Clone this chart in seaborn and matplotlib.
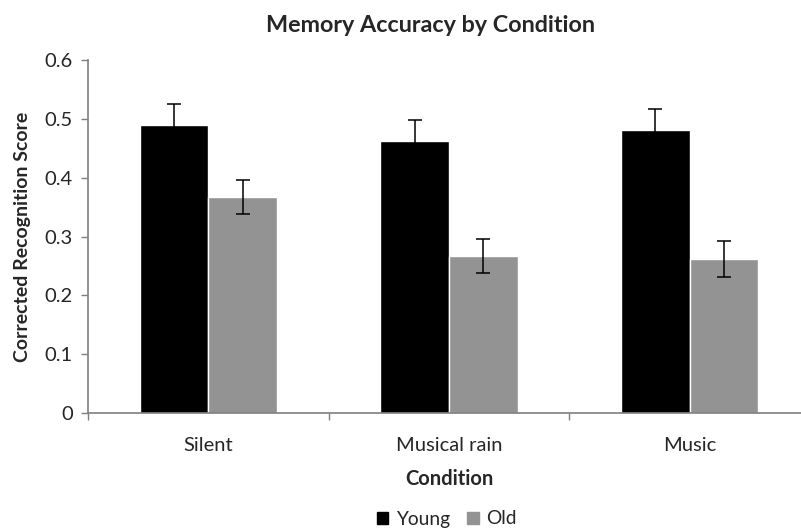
import pandas as pd
import matplotlib
matplotlib.use('Agg')
import matplotlib.pyplot as plt
import seaborn as sns
from matplotlib.ticker import FixedLocator

sns.set_style('white')
plt.rcParams['font.family'] = ['Lato', 'DejaVu Sans']

conditions = ['Silent', 'Musical rain', 'Music']
groups = ['Young', 'Old']
young_scores = [0.490, 0.463, 0.481]
old_scores = [0.367, 0.267, 0.262]
young_err = [0.035, 0.035, 0.035]
old_err = [0.029, 0.029, 0.030]
y_ticks = [0, 0.1, 0.2, 0.3, 0.4, 0.5, 0.6]
y_tick_labels = ['0', '0.1', '0.2', '0.3', '0.4', '0.5', '0.6']

df = pd.DataFrame({
    'Condition': conditions * 2,
    'Group': ['Young'] * 3 + ['Old'] * 3,
    'Score': young_scores + old_scores,
    'Err': young_err + old_err,
})

fig = plt.figure(figsize=(8.01, 5.30), dpi=100)
ax = fig.add_axes([88 / 801, 117 / 530, 722 / 801, 353 / 530])

palette = {'Young': '#000000', 'Old': '#939393'}
sns.barplot(data=df, x='Condition', y='Score', hue='Group', order=conditions,
            hue_order=groups, palette=palette, width=0.57, errorbar=None,
            saturation=1, ax=ax, legend=False)

# error bars at bar centres
for container, g in zip(ax.containers, groups):
    sub = df[df['Group'] == g].set_index('Condition').loc[conditions]
    xs = [b.get_x() + b.get_width() / 2 for b in container]
    ax.errorbar(xs, sub['Score'], yerr=sub['Err'], fmt='none', ecolor='black',
                elinewidth=1.1, capsize=5, capthick=1.1)

ax.set_ylim(0, 0.6)
ax.set_xlim(-0.5, 2.5)
ax.set_yticks(y_ticks, y_tick_labels)
ax.xaxis.set_minor_locator(FixedLocator([-0.5, 0.5, 1.5, 2.5]))
ax.tick_params(axis='x', which='major', length=0, pad=17, labelsize=14.5)
ax.tick_params(axis='x', which='minor', length=5, width=1, color='#7f7f7f',
               direction='out', bottom=True)
ax.tick_params(axis='y', length=5, width=1, color='#7f7f7f', direction='out',
               left=True, labelsize=14.5, pad=6)

for s in ['top', 'right']:
    ax.spines[s].set_visible(False)
for s in ['left', 'bottom']:
    ax.spines[s].set_color('#7f7f7f')
    ax.spines[s].set_linewidth(1.2)

ax.set_xlabel('Condition', fontsize=14.5, fontweight='bold', labelpad=11)
ax.set_ylabel('Corrected Recognition Score', fontsize=14, fontweight='bold', labelpad=10)

fig.text(430 / 801, 1 - 25 / 530, 'Memory Accuracy by Condition', ha='center',
         va='center', fontsize=16.8, fontweight='bold')

handles = [plt.Rectangle((0, 0), 1, 1, color=palette[g]) for g in groups]
fig.legend(handles, groups, loc='center', bbox_to_anchor=(447 / 801, 1 - 519 / 530),
           ncol=2, frameon=False, fontsize=13.8, handlelength=0.6, handleheight=0.6,
           handletextpad=0.4, columnspacing=0.9)

fig.savefig('out.png', dpi=100)
